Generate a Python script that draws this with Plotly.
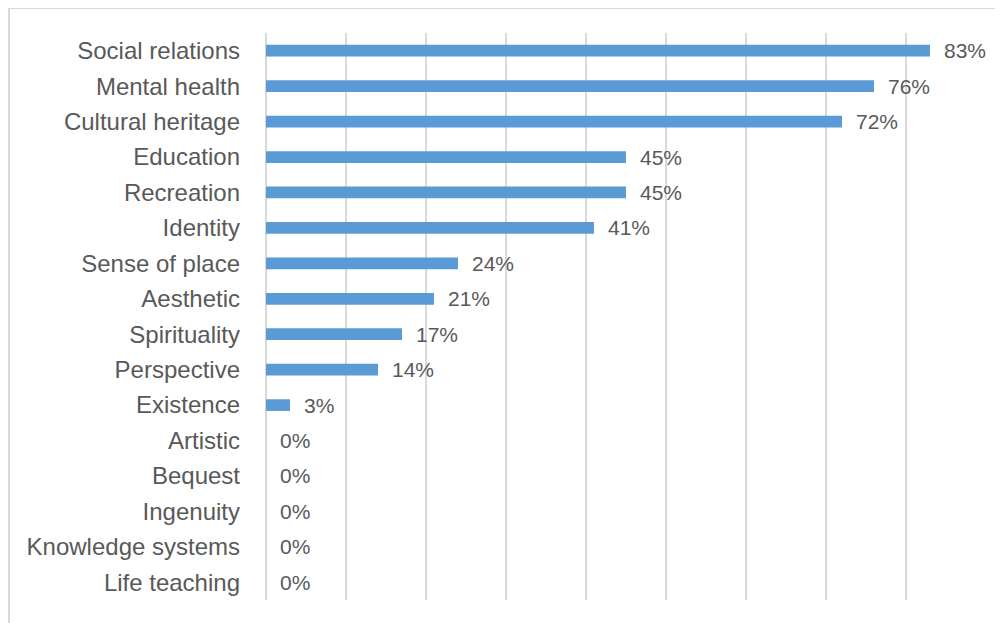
import plotly.graph_objects as go

categories = ["Social relations", "Mental health", "Cultural heritage", "Education",
              "Recreation", "Identity", "Sense of place", "Aesthetic", "Spirituality",
              "Perspective", "Existence", "Artistic", "Bequest", "Ingenuity",
              "Knowledge systems", "Life teaching"]
values = [83, 76, 72, 45, 45, 41, 24, 21, 17, 14, 3, 0, 0, 0, 0, 0]
x_ticks = [0, 10, 20, 30, 40, 50, 60, 70, 80, 90]

W, H = 995, 615
L, T = 258, 25
pw, ph = 720, 567
R, B = W - L - pw, H - T - ph

fig = go.Figure()
fig.add_trace(go.Bar(
    x=values, y=categories, orientation="h",
    marker=dict(color="#5b9bd5", line=dict(width=0)),
    width=0.33, hoverinfo="skip",
))

for c, v in zip(categories, values):
    fig.add_annotation(x=v, y=c, text=f"{v}%", showarrow=False,
                       xanchor="left", yanchor="middle", xshift=12,
                       font=dict(family="Liberation Sans, Arial", size=21, color="#595959"))

# outer frame of the chart image
fig.add_shape(type="rect", xref="paper", yref="paper",
              x0=(1 - L) / pw, x1=(W + 20 - L) / pw,
              y0=(H - B - (H + 20)) / ph, y1=(H - B) / ph,
              line=dict(color="#d9d9d9", width=2), fillcolor="rgba(0,0,0,0)", layer="below")

fig.update_layout(
    width=W, height=H,
    margin=dict(l=L, r=R, t=T, b=B),
    paper_bgcolor="white", plot_bgcolor="white",
    showlegend=False,
    font=dict(family="Liberation Sans, Arial", color="#595959"),
    xaxis=dict(range=[0, 90], tickvals=x_ticks, showticklabels=False,
               showgrid=True, gridcolor="#d9d9d9", gridwidth=1.5,
               zeroline=True, zerolinecolor="#d9d9d9", zerolinewidth=1.5,
               showline=False, fixedrange=True),
    yaxis=dict(categoryorder="array", categoryarray=categories, autorange="reversed",
               showgrid=False, showline=False, zeroline=False, ticks="",
               ticklabelstandoff=25,
               tickfont=dict(size=24, color="#595959"), fixedrange=True),
)

fig.write_html("out.html")
